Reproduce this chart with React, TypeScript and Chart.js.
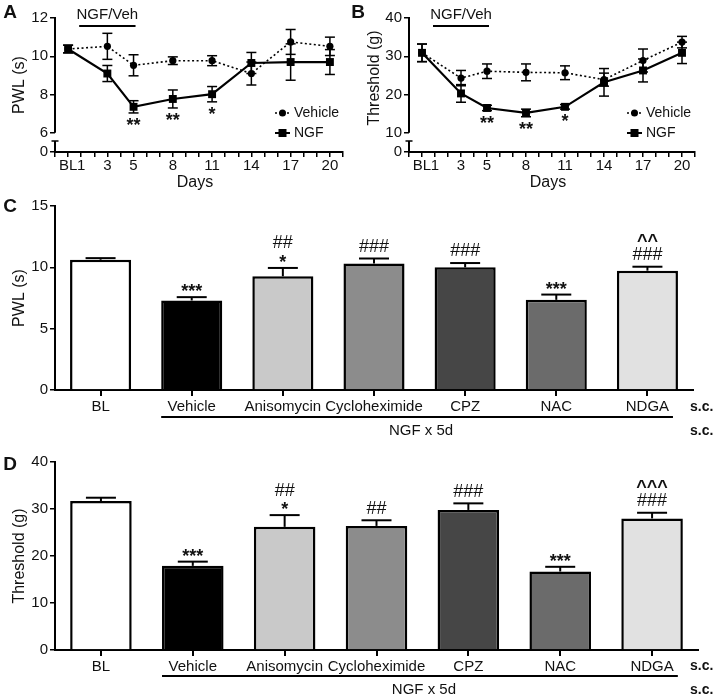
import React, { useEffect, useRef } from 'react';
import { Chart, registerables } from 'chart.js';
Chart.register(...registerables);

const FONT = "'Liberation Sans', Arial, Helvetica, sans-serif";
const INK = '#111';

// ---------- Panels A & B (time course) ----------
const timeDays = [0, 3, 5, 8, 11, 14, 17, 20];
const dayTickValues = [0, 1, 3, 5, 8, 11, 14, 17, 20];
const dayTickLabels = ['BL', '1', '3', '5', '8', '11', '14', '17', '20'];

const pwlVehicle = [10.38, 10.52, 9.53, 9.77, 9.77, 9.1, 10.75, 10.52];
const pwlVehicleErr = [0.2, 0.68, 0.55, 0.2, 0.26, 0.6, 0.65, 0.48];
const pwlNGF = [10.38, 9.1, 7.36, 7.77, 8.02, 9.65, 9.7, 9.7];
const pwlNGFErr = [0.2, 0.42, 0.32, 0.47, 0.4, 0.55, 0.95, 0.65];
const pwlSig = ['', '', '**', '**', '*', '', '', ''];
const pwlTicks = [6, 8, 10, 12];

const thrVehicle = [30.9, 24.3, 26.1, 25.8, 25.7, 23.9, 28.9, 33.7];
const thrVehicleErr = [2.3, 2.0, 1.9, 2.2, 1.8, 1.7, 3.0, 1.5];
const thrNGF = [30.9, 20.3, 16.5, 15.2, 16.8, 23.2, 26.3, 30.9];
const thrNGFErr = [2.3, 2.3, 0.7, 1.0, 0.6, 3.6, 3.0, 2.8];
const thrSig = ['', '', '**', '**', '*', '', '', ''];
const thrTicks = [10, 20, 30, 40];

// ---------- Panels C & D (bars) ----------
const groups = ['BL', 'Vehicle', 'Anisomycin', 'Cycloheximide', 'CPZ', 'NAC', 'NDGA'];
const barColors = ['#ffffff', '#000000', '#c9c9c9', '#8c8c8c', '#464646', '#6b6b6b', '#e1e1e1'];
const pwlBar = [10.62, 7.3, 9.27, 10.32, 10.0, 7.35, 9.73];
const pwlBarErr = [0.13, 0.27, 0.68, 0.4, 0.35, 0.43, 0.32];
const pwlBarSig = [[], ['***'], ['*', '##'], ['###'], ['###'], ['***'], ['###', '^^']];
const thrBar = [31.7, 17.9, 26.2, 26.4, 29.8, 16.7, 28.0];
const thrBarErr = [0.7, 0.9, 2.5, 1.2, 1.4, 1.0, 1.2];
const thrBarSig = [[], ['***'], ['*', '##'], ['##'], ['###'], ['***'], ['###', '^^^']];

function txt(ctx: CanvasRenderingContext2D, s: string, x: number, y: number, font: string,
  align: CanvasTextAlign = 'center', baseline: CanvasTextBaseline = 'middle', rot = 0) {
  ctx.save();
  ctx.font = font;
  ctx.fillStyle = INK;
  ctx.textAlign = align;
  ctx.textBaseline = baseline;
  ctx.translate(x, y);
  if (rot) ctx.rotate(rot);
  ctx.fillText(s, 0, 0);
  ctx.restore();
}

function seg(ctx: CanvasRenderingContext2D, x1: number, y1: number, x2: number, y2: number) {
  ctx.beginPath();
  ctx.moveTo(x1, y1);
  ctx.lineTo(x2, y2);
  ctx.stroke();
}

// glyph centre -> alphabetic baseline offset (fraction of font size)
function glyphShift(s: string) {
  if (s.includes('*')) return 0.575;
  if (s.includes('^')) return 0.52;
  return 0.355;
}

interface LinePanel {
  letter: string;
  yTitle: string;
  yTitleDy: number;
  veh: number[]; vehErr: number[];
  ngf: number[]; ngfErr: number[];
  sig: string[];
  ticks: number[];
  zero: number;
  yWidth: number;
  padRight: number;
  letterX: number;
  titleX: number;
}

function linePlugin(p: LinePanel) {
  return {
    id: 'linePanel',
    beforeDatasetsDraw(chart: any) {
      const { ctx } = chart;
      const xs = chart.scales.x, ys = chart.scales.y;
      ctx.save();
      ctx.strokeStyle = '#000';
      ctx.lineWidth = 1.5;
      const sets: [number[], number[]][] = [[p.veh, p.vehErr], [p.ngf, p.ngfErr]];
      sets.forEach(([vals, errs]) => {
        vals.forEach((v, i) => {
          const x = xs.getPixelForValue(timeDays[i]);
          const y1 = ys.getPixelForValue(v + errs[i]);
          const y2 = ys.getPixelForValue(v - errs[i]);
          seg(ctx, x, y1, x, y2);
          seg(ctx, x - 5, y1, x + 5, y1);
          seg(ctx, x - 5, y2, x + 5, y2);
        });
      });
      ctx.restore();
    },
    afterDraw(chart: any) {
      const { ctx, chartArea } = chart;
      const xs = chart.scales.x, ys = chart.scales.y;
      const L = chartArea.left, B = chartArea.bottom, R = chartArea.right, T = chartArea.top;
      ctx.save();
      ctx.strokeStyle = '#000';
      ctx.lineWidth = 2;
      // broken y axis
      seg(ctx, L, ys.getPixelForValue(p.ticks[p.ticks.length - 1]) - 1, L, ys.getPixelForValue(p.ticks[0]));
      seg(ctx, L, B, L, B - 11);
      ctx.lineWidth = 1.5;
      seg(ctx, L - 3.5, B - 11, L + 3.5, B - 11);
      // significance under NGF
      p.sig.forEach((s, i) => {
        if (!s) return;
        const x = xs.getPixelForValue(timeDays[i]);
        const yb = ys.getPixelForValue(p.ngf[i] - p.ngfErr[i]);
        txt(ctx, s, x, yb + 8 + 18 * glyphShift(s), `bold 18px ${FONT}`, 'center', 'alphabetic');
      });
      // NGF/Veh treatment bar
      const x1 = xs.getPixelForValue(1) - 2, x5 = xs.getPixelForValue(5) + 2;
      ctx.lineWidth = 2;
      seg(ctx, x1, T + 8, x5, T + 8);
      txt(ctx, 'NGF/Veh', (x1 + x5) / 2, T - 3, `15px ${FONT}`);
      // legend
      const sx0 = R - 68, sx1 = R - 53, sm = (sx0 + sx1) / 2;
      const r1 = B - 39, r2 = B - 19;
      ctx.lineWidth = 1.5;
      ctx.setLineDash([2, 2]);
      seg(ctx, sx0, r1, sx1, r1);
      ctx.setLineDash([]);
      ctx.fillStyle = '#000';
      ctx.beginPath(); ctx.arc(sm, r1, 3.5, 0, Math.PI * 2); ctx.fill();
      ctx.lineWidth = 2;
      seg(ctx, sx0, r2, sx1, r2);
      ctx.fillRect(sm - 4, r2 - 4, 8, 8);
      txt(ctx, 'Vehicle', R - 49, r1, `14px ${FONT}`, 'left');
      txt(ctx, 'NGF', R - 49, r2, `14px ${FONT}`, 'left');
      // titles
      txt(ctx, 'Days', (L + R) / 2 - 4, B + 31, `16px ${FONT}`);
      txt(ctx, p.yTitle, p.titleX, (T + B) / 2 + p.yTitleDy, `16px ${FONT}`, 'center', 'middle', -Math.PI / 2);
      txt(ctx, p.letter, p.letterX, 13, `bold 19px ${FONT}`);
      ctx.restore();
    },
  };
}

function lineConfig(p: LinePanel): any {
  const axisTicks = Array.from({ length: 23 }, (_, i) => i - 1);
  return {
    type: 'line',
    data: {
      datasets: [
        {
          label: 'Vehicle',
          data: timeDays.map((d, i) => ({ x: d, y: p.veh[i] })),
          borderColor: '#000', borderWidth: 1.6, borderDash: [2, 2.5],
          pointStyle: 'circle', pointRadius: 3.6, pointBackgroundColor: '#000',
          pointBorderColor: '#000', pointBorderWidth: 0, tension: 0,
        },
        {
          label: 'NGF',
          data: timeDays.map((d, i) => ({ x: d, y: p.ngf[i] })),
          borderColor: '#000', borderWidth: 2.2,
          pointStyle: 'rect', pointRadius: 5.6, pointBackgroundColor: '#000',
          pointBorderColor: '#000', pointBorderWidth: 0, tension: 0,
        },
      ],
    },
    options: {
      responsive: false, animation: false, devicePixelRatio: 1, events: [],
      layout: { padding: { top: 18, right: p.padRight, left: 0, bottom: 0 } },
      plugins: { legend: { display: false }, tooltip: { enabled: false } },
      scales: {
        x: {
          type: 'linear', min: -1, max: 21,
          afterBuildTicks: (s: any) => { s.ticks = axisTicks.map((v) => ({ value: v })); },
          afterFit: (s: any) => { s.height = 43; },
          ticks: {
            autoSkip: false, maxRotation: 0, padding: 0, color: INK,
            font: { family: FONT, size: 15 },
            callback: (v: number) => {
              const k = dayTickValues.indexOf(v);
              return k >= 0 ? dayTickLabels[k] : '';
            },
          },
          grid: { drawOnChartArea: false, tickLength: 5, color: '#000', lineWidth: 1.5 },
          border: { color: '#000', width: 2 },
        },
        y: {
          type: 'linear', min: p.zero, max: p.ticks[p.ticks.length - 1],
          afterBuildTicks: (s: any) => { s.ticks = [p.zero, ...p.ticks].map((v) => ({ value: v })); },
          afterFit: (s: any) => { s.width = p.yWidth; },
          ticks: {
            padding: 2, color: INK, font: { family: FONT, size: 15 },
            callback: (v: number) => (v === p.zero ? '0' : String(v)),
          },
          grid: { drawOnChartArea: false, tickLength: 5, color: '#000', lineWidth: 1.5 },
          border: { display: false },
        },
      },
    },
    plugins: [linePlugin(p)],
  };
}

interface BarPanel {
  letter: string; letterY: number;
  yTitle: string;
  vals: number[]; errs: number[]; sig: string[][];
  max: number; step: number;
  padTop: number; padRight: number; xHeight: number;
  groupLineDy: number; ngfDy: number;
}

function barPlugin(p: BarPanel) {
  return {
    id: 'barPanel',
    afterDatasetsDraw(chart: any) {
      const { ctx, chartArea } = chart;
      const xs = chart.scales.x, ys = chart.scales.y;
      const meta = chart.getDatasetMeta(0);
      ctx.save();
      ctx.strokeStyle = '#000';
      ctx.lineWidth = 2;
      p.vals.forEach((v, i) => {
        const x = xs.getPixelForValue(i);
        const yTop = ys.getPixelForValue(v + p.errs[i]);
        const yBar = ys.getPixelForValue(v);
        seg(ctx, x, yBar, x, yTop);
        seg(ctx, x - 15, yTop, x + 15, yTop);
        let c = 0;
        p.sig[i].forEach((s, j) => {
          c = j === 0 ? (s.includes('*') ? 10 : 13) : c + 16;
          const font = s.includes('#') ? `18px ${FONT}` : `bold 18px ${FONT}`;
          txt(ctx, s, x, yTop - c + 18 * glyphShift(s), font, 'center', 'alphabetic');
        });
      });
      const B = chartArea.bottom;
      const bar1 = meta.data[1], bar6 = meta.data[6];
      const gx0 = bar1.x - bar1.width / 2, gx1 = bar6.x + bar6.width / 2 - 5;
      ctx.lineWidth = 2;
      seg(ctx, gx0, B + p.groupLineDy, gx1, B + p.groupLineDy);
      txt(ctx, 'NGF x 5d', (gx0 + gx1) / 2 + 4, B + p.ngfDy, `15px ${FONT}`);
      txt(ctx, 's.c.', 690, B + p.ngfDy - 24, `bold 14px ${FONT}`, 'left');
      txt(ctx, 's.c.', 690, B + p.ngfDy, `bold 14px ${FONT}`, 'left');
      txt(ctx, p.yTitle, 20, (chartArea.top + B) / 2, `16px ${FONT}`, 'center', 'middle', -Math.PI / 2);
      txt(ctx, p.letter, 10, p.letterY, `bold 19px ${FONT}`);
      ctx.restore();
    },
  };
}

function barConfig(p: BarPanel): any {
  return {
    type: 'bar',
    data: {
      labels: groups,
      datasets: [{
        data: p.vals, backgroundColor: barColors, borderColor: '#000', borderWidth: 2.5,
        borderSkipped: 'start', barPercentage: 0.67, categoryPercentage: 1,
      }],
    },
    options: {
      responsive: false, animation: false, devicePixelRatio: 1, events: [],
      layout: { padding: { top: p.padTop, right: p.padRight, left: 0, bottom: 0 } },
      plugins: { legend: { display: false }, tooltip: { enabled: false } },
      scales: {
        x: {
          z: 1,
          afterFit: (s: any) => { s.height = p.xHeight; },
          ticks: { autoSkip: false, maxRotation: 0, padding: 2, color: INK, font: { family: FONT, size: 15 } },
          grid: { offset: false, drawOnChartArea: false, tickLength: 6, color: '#000', lineWidth: 2 },
          border: { color: '#000', width: 2 },
        },
        y: {
          z: 1,
          min: 0, max: p.max,
          afterFit: (s: any) => { s.width = 55; },
          ticks: { stepSize: p.step, padding: 2, color: INK, font: { family: FONT, size: 15 } },
          grid: { drawOnChartArea: false, tickLength: 5, color: '#000', lineWidth: 1.5 },
          border: { color: '#000', width: 2 },
        },
      },
    },
    plugins: [barPlugin(p)],
  };
}

function ChartBox(props: { left: number; top: number; width: number; height: number; make: () => any }) {
  const ref = useRef<HTMLCanvasElement>(null);
  useEffect(() => {
    const chart = new Chart(ref.current as HTMLCanvasElement, props.make());
    return () => chart.destroy();
  }, []);
  const { left, top, width, height } = props;
  return (
    <div style={{ position: 'absolute', left, top, width, height }}>
      <canvas ref={ref} width={width} height={height} style={{ width, height, display: 'block' }} />
    </div>
  );
}

const panelA: LinePanel = {
  letter: 'A', yTitle: 'PWL (s)', yTitleDy: 0,
  veh: pwlVehicle, vehErr: pwlVehicleErr, ngf: pwlNGF, ngfErr: pwlNGFErr, sig: pwlSig,
  ticks: pwlTicks, zero: 5, yWidth: 55, padRight: 17, letterX: 10, titleX: 20,
};
const panelB: LinePanel = {
  letter: 'B', yTitle: 'Threshold (g)', yTitleDy: -7,
  veh: thrVehicle, vehErr: thrVehicleErr, ngf: thrNGF, ngfErr: thrNGFErr, sig: thrSig,
  ticks: thrTicks, zero: 5, yWidth: 64, padRight: 25, letterX: 13, titleX: 30,
};
const panelC: BarPanel = {
  letter: 'C', letterY: 12, yTitle: 'PWL (s)', vals: pwlBar, errs: pwlBarErr, sig: pwlBarSig,
  max: 15, step: 5, padTop: 10, padRight: 27, xHeight: 50, groupLineDy: 27, ngfDy: 41,
};
const panelD: BarPanel = {
  letter: 'D', letterY: 25, yTitle: 'Threshold (g)', vals: thrBar, errs: thrBarErr, sig: thrBarSig,
  max: 40, step: 10, padTop: 22, padRight: 22, xHeight: 46, groupLineDy: 26, ngfDy: 40,
};

export default function App() {
  return (
    <div style={{ position: 'fixed', left: 0, top: 0, width: 720, height: 696, background: '#fff', overflow: 'hidden' }}>
      <ChartBox left={0} top={0} width={360} height={195} make={() => lineConfig(panelA)} />
      <ChartBox left={345} top={0} width={375} height={195} make={() => lineConfig(panelB)} />
      <ChartBox left={0} top={195} width={720} height={245} make={() => barConfig(panelC)} />
      <ChartBox left={0} top={440} width={720} height={256} make={() => barConfig(panelD)} />
    </div>
  );
}
